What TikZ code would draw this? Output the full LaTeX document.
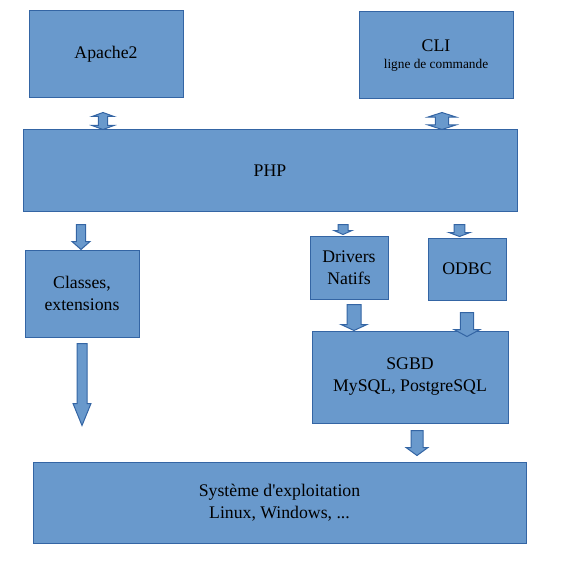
\documentclass[tikz,border=0pt]{standalone}
\usepackage{fontspec}
\setmainfont{Liberation Serif}
\usepackage{xcolor}
\usetikzlibrary{calc}
\definecolor{lobox}{RGB}{105,153,204}
\definecolor{loline}{RGB}{52,101,164}

% block arrow pointing down: tail, tip, shaft half width, head half width, head length
\newcommand{\downblock}[5]{%
  \draw[barrow] let \p1=(#1), \p2=(#2) in
    ({\x1-#3},{\y1}) -- ({\x1+#3},{\y1}) -- ({\x1+#3},{\y2+#5}) -- ({\x1+#4},{\y2+#5})
    -- ({\x1},{\y2}) -- ({\x1-#4},{\y2+#5}) -- ({\x1-#3},{\y2+#5}) -- cycle;}
% block arrow with two heads: top, bottom, shaft half width, head half width, head length
\newcommand{\bothblock}[5]{%
  \draw[barrow] let \p1=(#1), \p2=(#2) in
    ({\x1},{\y1}) -- ({\x1+#4},{\y1-#5}) -- ({\x1+#3},{\y1-#5}) -- ({\x1+#3},{\y2+#5})
    -- ({\x1+#4},{\y2+#5}) -- ({\x1},{\y2}) -- ({\x1-#4},{\y2+#5}) -- ({\x1-#3},{\y2+#5})
    -- ({\x1-#3},{\y1-#5}) -- ({\x1-#4},{\y1-#5}) -- cycle;}

\begin{document}
\begin{tikzpicture}[x=0.75pt, y=-0.75pt]
    % Define styles
    \tikzset{
        box/.style={rectangle, draw=loline, fill=lobox, line width=0.75pt, inner sep=0pt, align=center,
                    font=\fontsize{13.3}{16.5}\selectfont},
        barrow/.style={draw=loline, fill=lobox, line width=0.75pt, line join=miter}
    }
    \useasboundingbox (0,0) rectangle (572,567);

    % Components
    \node[box, minimum width=115.5pt, minimum height=65.25pt] (apache) at (106,54.5) {Apache2};
    \node[box, minimum width=115.5pt, minimum height=65.25pt] (cli) at (436,55.5)
        {CLI\\[-3.5pt]{\fontsize{10}{12}\selectfont ligne de commande}};
    \node[box, minimum width=370.5pt, minimum height=60.75pt] (php) at (270,170.5) {PHP};
    \node[box, minimum width=85.5pt, minimum height=65.25pt] (classes) at (82,293.5) {Classes,\\extensions};
    \node[box, minimum width=58.5pt, minimum height=47.25pt] (drivers) at (349,267.5) {Drivers\\Natifs};
    \node[box, minimum width=58.5pt, minimum height=46.5pt] (odbc) at (467,269) {ODBC};
    \node[box, minimum width=147pt, minimum height=69pt] (sgbd) at (410,377) {SGBD\\MySQL, PostgreSQL};
    \node[box, minimum width=369.75pt, minimum height=60.75pt] (os) at (279.5,502.5)
        {Système d\textquotesingle exploitation\\Linux, Windows, ...};

    % Arrows
    \bothblock{$(apache.south)+(-3,14)$}{$(apache.south |- php.north)+(-3,0)$}{3.4pt}{8.25pt}{3pt}
    \bothblock{$(cli.south)+(6,13)$}{$(cli.south |- php.north)+(6,0)$}{4.9pt}{10.5pt}{3.4pt}
    \downblock{$(php.south -| classes.north)+(-1,13)$}{$(classes.north)+(-1,0)$}{3.4pt}{6.75pt}{6pt}
    \downblock{$(classes.south)+(0,6)$}{$(classes.south |- os.north)+(0,-36)$}{3.75pt}{6.75pt}{16.5pt}
    \downblock{$(php.south -| drivers.north)+(-6,13)$}{$(drivers.north)+(-6,-1)$}{3.75pt}{6.75pt}{3pt}
    \downblock{$(php.south -| odbc.north)+(-7.5,13)$}{$(odbc.north)+(-7.5,-1)$}{4.1pt}{7.9pt}{3pt}
    \downblock{$(drivers.south)+(5,5)$}{$(drivers.south |- sgbd.north)+(5,0)$}{5.25pt}{9.75pt}{4.5pt}
    \downblock{$(odbc.south)+(0,12)$}{$(odbc.south |- sgbd.north)+(0,6)$}{4.9pt}{9.75pt}{5.25pt}
    \downblock{$(sgbd.south)+(7,7)$}{$(sgbd.south |- os.north)+(7,-6)$}{4.5pt}{8.25pt}{6pt}
\end{tikzpicture}
\end{document}
